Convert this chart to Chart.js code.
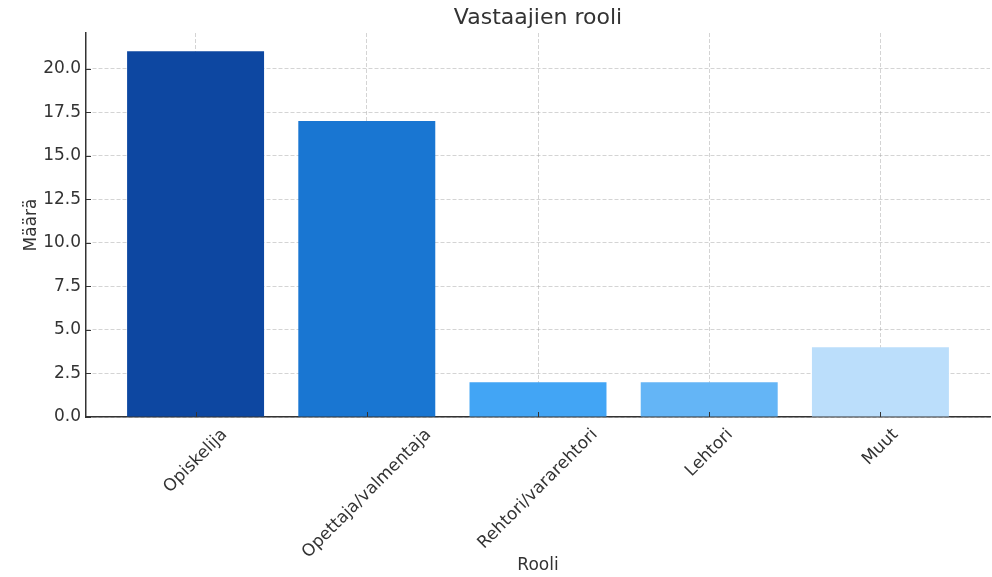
<!DOCTYPE html>
<html>
<head>
<meta charset="utf-8">
<script src="https://cdn.jsdelivr.net/npm/chart.js@4/dist/chart.umd.min.js"></script>
<style>
  html, body { margin: 0; padding: 0; background: #fff; }
  #wrap { width: 992px; height: 577px; }
</style>
</head>
<body>
<div id="wrap"><canvas id="chart"></canvas></div>
<script>
const categories = ['Opiskelija', 'Opettaja/valmentaja', 'Rehtori/vararehtori', 'Lehtori', 'Muut'];
const counts = [21, 17, 2, 2, 4];
const barColors = ['#0D47A1', '#1976D2', '#42A5F5', '#64B5F6', '#BBDEFB'];
const yTicks = [0, 2.5, 5, 7.5, 10, 12.5, 15, 17.5, 20];

const FONT = 'DejaVu Sans';
const TEXT = '#333333';

// draws the rotated category labels centred on each tick (matplotlib style) and the inward tick marks
const labelPlugin = {
    id: 'labels',
    afterDraw(chart) {
        const ctx = chart.ctx;
        const xs = chart.scales.x;
        const ys = chart.scales.y;
        const area = chart.chartArea;
        ctx.save();
        ctx.strokeStyle = TEXT;
        ctx.lineWidth = 1;
        categories.forEach((c, i) => {
            const x = Math.round(xs.getPixelForValue(i)) + 0.5;
            ctx.beginPath();
            ctx.moveTo(x, area.bottom);
            ctx.lineTo(x, area.bottom - 5);
            ctx.stroke();
        });
        yTicks.forEach(v => {
            const y = Math.round(ys.getPixelForValue(v)) + 0.5;
            ctx.beginPath();
            ctx.moveTo(area.left, y);
            ctx.lineTo(area.left + 5, y);
            ctx.stroke();
        });

        ctx.font = '17px "' + FONT + '"';
        ctx.fillStyle = TEXT;
        ctx.textAlign = 'center';
        ctx.textBaseline = 'middle';
        const s = Math.SQRT1_2;
        categories.forEach((c, i) => {
            const w = ctx.measureText(c).width;
            const h = 17;
            const box = (w + h) * s;
            const x = xs.getPixelForValue(i);
            const y = area.bottom + 9 + box / 2;
            ctx.save();
            ctx.translate(x, y);
            ctx.rotate(-Math.PI / 4);
            ctx.fillText(c, 0, 0);
            ctx.restore();
        });
        ctx.restore();
    }
};

const ctx = document.getElementById('chart');
new Chart(ctx, {
    type: 'bar',
    data: {
        datasets: [{
            label: 'Määrä',
            data: counts.map((v, i) => ({ x: i, y: v })),
            backgroundColor: barColors,
            borderWidth: 0,
            barPercentage: 1,
            categoryPercentage: 0.8
        }]
    },
    options: {
        responsive: true,
        maintainAspectRatio: false,
        animation: false,
        layout: { padding: { top: 0, right: 2, bottom: 0, left: 0 } },
        plugins: {
            legend: { display: false },
            tooltip: { enabled: false },
            title: {
                display: true,
                fullSize: false,
                text: 'Vastaajien rooli',
                color: TEXT,
                font: { family: FONT, size: 22, weight: 'normal', lineHeight: 1.2 },
                padding: { top: 5, bottom: 1.6 }
            }
        },
        scales: {
            x: {
                type: 'linear',
                min: -0.64,
                max: 4.64,
                offset: false,
                z: 1,
                afterFit: s => { s.height = 160; },
                ticks: { stepSize: 1, includeBounds: false, display: false },
                grid: {
                    offset: false,
                    color: 'rgba(160,160,160,0.45)',
                    lineWidth: 1,
                    drawTicks: false
                },
                border: { display: true, color: TEXT, width: 1.5, dash: [4, 2] },
                title: {
                    display: true,
                    text: 'Rooli',
                    color: TEXT,
                    font: { family: FONT, size: 17 },
                    padding: { bottom: 1 }
                }
            },
            y: {
                min: 0,
                max: 22.05,
                z: 1,
                afterFit: s => { s.width = 86; },
                ticks: {
                    stepSize: 2.5,
                    includeBounds: false,
                    padding: 5,
                    color: TEXT,
                    font: { family: FONT, size: 17 },
                    callback: v => v.toFixed(1)
                },
                grid: {
                    color: 'rgba(160,160,160,0.45)',
                    lineWidth: 1,
                    drawTicks: false
                },
                border: { display: true, color: TEXT, width: 1.5, dash: [4, 2] },
                title: {
                    display: true,
                    text: 'Määrä',
                    color: TEXT,
                    font: { family: FONT, size: 17 },
                    padding: { top: 21 }
                }
            }
        }
    },
    plugins: [labelPlugin]
});
</script>
</body>
</html>
